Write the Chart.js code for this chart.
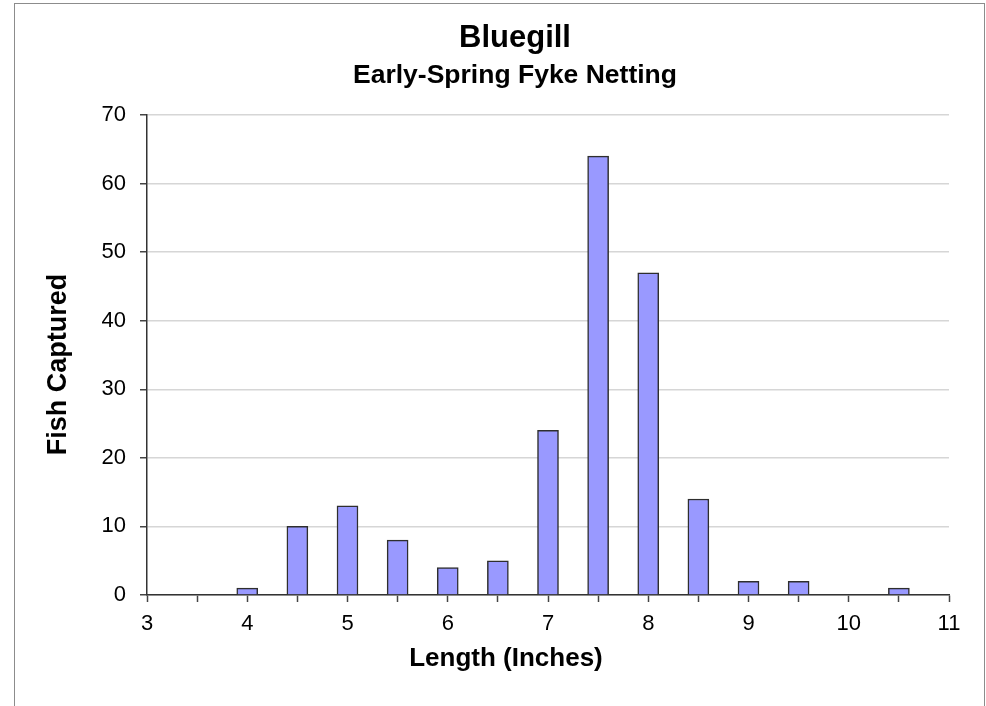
<!DOCTYPE html>
<html>
<head>
<meta charset="utf-8">
<title>Bluegill - Early-Spring Fyke Netting</title>
<script src="https://cdn.jsdelivr.net/npm/chart.js@4/dist/chart.umd.min.js"></script>
<style>
  html, body { margin: 0; padding: 0; background: #ffffff; overflow: hidden; }
  #frame {
    position: absolute; left: 14px; top: 3px; width: 969px; height: 740px;
    border: 1px solid #8c8c8c; background: #ffffff;
  }
  #wrap { position: absolute; left: 0; top: 0; width: 986px; height: 706px; }
</style>
</head>
<body>
<div id="frame"></div>
<div id="wrap"><canvas id="chart" width="986" height="706"></canvas></div>
<script>
// Length classes (inches) and number of bluegill captured in each
const lengths = [3, 3.5, 4, 4.5, 5, 5.5, 6, 6.5, 7, 7.5, 8, 8.5, 9, 9.5, 10, 10.5];
const fishCaptured = [0, 0, 1, 10, 13, 8, 4, 5, 24, 64, 47, 14, 2, 2, 0, 1];

// Axis ranges and labels
const xRange = [3, 11];
const xStep = 0.5;
const yRange = [0, 70];
const yStep = 10;

const titleText = 'Bluegill';
const subtitleText = 'Early-Spring Fyke Netting';
const xTitle = 'Length (Inches)';
const yTitle = 'Fish Captured';

const FONT = '"Liberation Sans", Arial, Helvetica, sans-serif';

// Axis titles placed relative to the plot area
const axisTitles = {
  id: 'axisTitles',
  afterDraw(chart) {
    const { ctx, chartArea: a } = chart;
    ctx.save();
    ctx.fillStyle = '#000000';
    ctx.font = 'bold 26px ' + FONT;
    ctx.textAlign = 'center';
    ctx.textBaseline = 'middle';
    ctx.fillText(xTitle, a.left + a.width * 0.4476, a.bottom + 64);
    ctx.translate(a.left - 88, a.top + a.height * 0.52);
    ctx.rotate(-Math.PI / 2);
    ctx.font = 'bold 27px ' + FONT;
    ctx.fillText(yTitle, 0, 0);
    ctx.restore();
  }
};

new Chart(document.getElementById('chart'), {
  type: 'bar',
  data: {
    datasets: [{
      data: lengths.map((x, i) => ({ x: x, y: fishCaptured[i] })),
      backgroundColor: '#9999ff',
      borderColor: '#2e2e2e',
      borderWidth: 1.5,
      barThickness: 21
    }]
  },
  options: {
    responsive: false,
    animation: false,
    layout: { padding: { left: 44, right: 0, top: 0, bottom: 0 } },
    plugins: {
      legend: { display: false },
      tooltip: { enabled: false },
      title: {
        display: true,
        text: titleText,
        color: '#000000',
        font: { family: FONT, size: 31, weight: 'bold', lineHeight: 1.2 },
        padding: { top: 20, bottom: 0 }
      },
      subtitle: {
        display: true,
        text: subtitleText,
        color: '#000000',
        font: { family: FONT, size: 26.5, weight: 'bold', lineHeight: 1.2 },
        padding: { top: 3, bottom: 23 }
      }
    },
    scales: {
      x: {
        type: 'linear',
        min: xRange[0],
        max: xRange[1],
        offset: false,
        border: { display: true, color: '#333333', width: 1.5 },
        grid: { offset: false, drawOnChartArea: false, drawTicks: true, tickLength: 7, tickColor: '#444444', tickWidth: 1.5 },
        ticks: {
          stepSize: xStep,
          autoSkip: false,
          maxRotation: 0,
          padding: 9,
          color: '#000000',
          font: { family: FONT, size: 22 },
          callback: v => (Number.isInteger(v) ? String(v) : '')
        },
        afterFit(scale) { scale.height = 111; }
      },
      y: {
        min: yRange[0],
        max: yRange[1],
        border: { display: true, color: '#333333', width: 1.5 },
        grid: { color: '#d6d6d6', lineWidth: 1.5, drawTicks: true, tickLength: 7, tickColor: '#444444', tickWidth: 1.5 },
        ticks: {
          stepSize: yStep,
          padding: 14,
          color: '#000000',
          font: { family: FONT, size: 22 }
        },
        afterFit(scale) { scale.width = 103; }
      },
      yRight: {
        type: 'linear',
        position: 'right',
        min: 0,
        max: 1,
        border: { display: false },
        grid: { display: false },
        ticks: { display: false },
        afterFit(scale) { scale.width = 37; }
      }
    }
  },
  plugins: [axisTitles]
});
</script>
</body>
</html>
